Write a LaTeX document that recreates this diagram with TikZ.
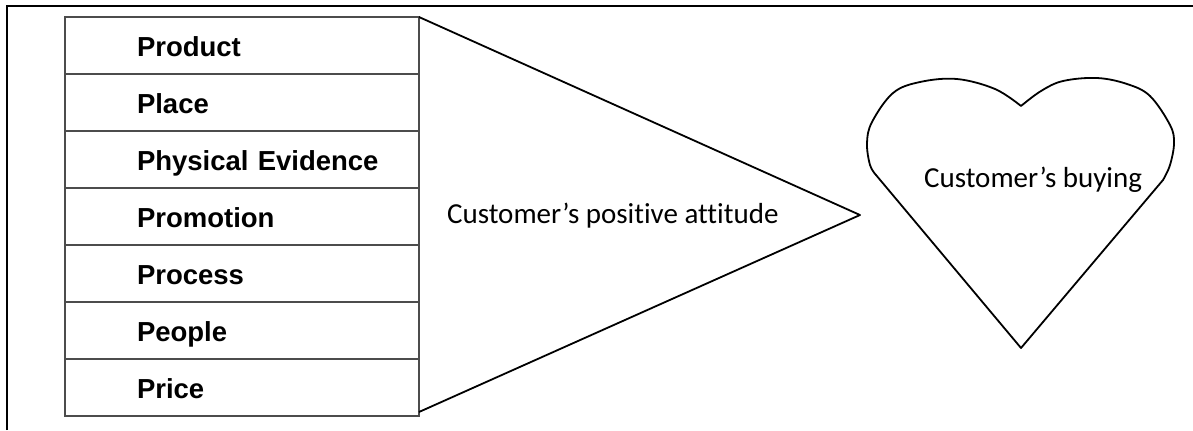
\documentclass[tikz,border=0pt]{standalone}
\usepackage{fontspec}
\setmainfont{Carlito}[Ligatures=NoCommon]
\newfontfamily\arialfont{Liberation Sans}
\usetikzlibrary{positioning}

\begin{document}
\begin{tikzpicture}[
  x=0.5pt, y=-0.5pt,
  every node/.style={font=\fontsize{14.5}{17}\selectfont},
  cell/.style={draw=black!70, line width=0.8pt, outer sep=0pt, inner xsep=0pt, inner ysep=0pt,
               minimum width=177pt, minimum height=28.5pt, text width=177pt, align=left,
               text height=10.5pt, text depth=0pt,
               execute at begin node=\hspace*{36pt},
               font=\arialfont\bfseries\fontsize{13.75}{16}\selectfont},
  outline/.style={draw=black, line width=0.9pt, line join=round}
]
\useasboundingbox (0,0) rectangle (1193,430);

%% frame (only left and top edges show)
\draw[line width=1pt] (7,430) -- (7,6) -- (1193,6);

%% 1. the seven Ps
\node[cell, anchor=north west] (product) at (65,17) {Product};
\node[cell, below=0pt of product] (place) {Place};
\node[cell, below=0pt of place] (evidence) {Physical Evidence};
\node[cell, below=0pt of evidence] (promotion) {Promotion};
\node[cell, below=0pt of promotion] (process) {Process};
\node[cell, below=0pt of process] (people) {People};
\node[cell, below=0pt of people] (price) {Price};

%% 2. funnel towards the attitude
\coordinate (tip) at (860,215);
\coordinate (funnelbot) at (419,412);
\draw[outline] (product.north east) -- (tip) -- (funnelbot);
\node[anchor=base west] (attitude) at (440,223) {Customer’s positive attitude};

%% 3. heart
\draw[outline]
  plot[smooth, tension=0.6] coordinates {(1021,106) (995,89) (957,79) (920,82) (893,93)
                                         (872,122) (867,143) (870,165) (876,175)}
  -- (1021,348) -- (1163,180)
  -- plot[smooth, tension=0.6] coordinates {(1163,180) (1170,165) (1174,143) (1170,125)
                                            (1150,96) (1127,84) (1097,78) (1063,81)
                                            (1041,91) (1021,106)}
  -- cycle;
\node[anchor=base west] (buying) at (917,187) {Customer’s buying};

\end{tikzpicture}
\end{document}
